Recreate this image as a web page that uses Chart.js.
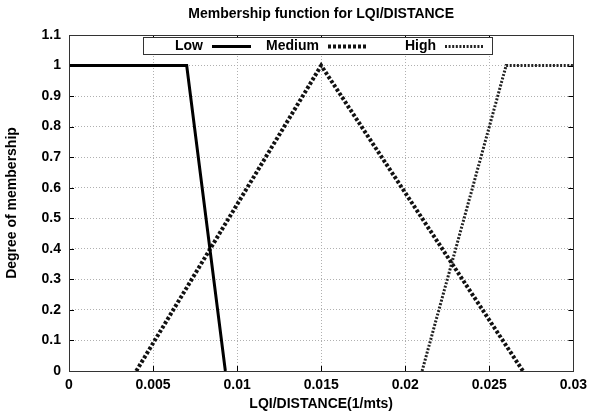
<!DOCTYPE html>
<html>
<head>
<meta charset="utf-8">
<script src="https://cdn.jsdelivr.net/npm/chart.js@4"></script>
<style>
  html, body { margin: 0; padding: 0; background: #fff; }
  #wrap { width: 593px; height: 418px; }
</style>
</head>
<body>
<div id="wrap"><canvas id="myChart" width="593" height="418"></canvas></div>
<script>
// valores
const seriesNames = ['Low', 'Medium', 'High'];
const lowX = [0, 0.007, 0.0093];
const lowY = [1, 1, 0];
const mediumX = [0.004, 0.015, 0.027];
const mediumY = [0, 1, 0];
const highX = [0.021, 0.026, 0.03];
const highY = [0, 1, 1];
const xTicks = [0, 0.005, 0.01, 0.015, 0.02, 0.025, 0.03];
const xTickLabels = ['0', '0.005', '0.01', '0.015', '0.02', '0.025', '0.03'];
const yTicks = [0, 0.1, 0.2, 0.3, 0.4, 0.5, 0.6, 0.7, 0.8, 0.9, 1, 1.1];
const yTickLabels = ['0', '0.1', '0.2', '0.3', '0.4', '0.5', '0.6', '0.7', '0.8', '0.9', '1', '1.1'];

const FONT = 'Liberation Sans, Arial, sans-serif';

function pts(xs, ys) {
    return xs.map((x, i) => ({ x: x, y: ys[i] }));
}

// titulo, caixa, marcas internas e legenda no estilo gnuplot
const gnuplotStyle = {
    id: 'gnuplotStyle',
    afterDraw(chart) {
        const c = chart.ctx;
        const a = chart.chartArea;
        const xs = chart.scales.x;
        const ys = chart.scales.y;
        c.save();

        // titulo
        c.fillStyle = '#000';
        c.font = 'bold 14px ' + FONT;
        c.textAlign = 'center';
        c.textBaseline = 'middle';
        c.fillText('Membership function for LQI/DISTANCE', (a.left + a.right) / 2, 14);

        // marcas dos eixos (para dentro, espelhadas)
        c.strokeStyle = '#000';
        c.lineWidth = 1;
        c.beginPath();
        xTicks.forEach(v => {
            const px = Math.round(xs.getPixelForValue(v)) + 0.5;
            c.moveTo(px, a.bottom); c.lineTo(px, a.bottom - 5);
            c.moveTo(px, a.top); c.lineTo(px, a.top + 5);
        });
        yTicks.forEach(v => {
            const py = Math.round(ys.getPixelForValue(v)) + 0.5;
            c.moveTo(a.left, py); c.lineTo(a.left + 5, py);
            c.moveTo(a.right, py); c.lineTo(a.right - 5, py);
        });
        c.stroke();

        // borda
        c.strokeStyle = '#333';
        c.strokeRect(Math.round(a.left) + 0.5, Math.round(a.top) + 0.5,
            Math.round(a.right - a.left), Math.round(a.bottom - a.top));

        // legenda
        const bx = a.left + 74, by = a.top + 2, bw = 349, bh = 17;
        c.fillStyle = '#fff';
        c.fillRect(bx, by, bw, bh);
        c.strokeStyle = '#333';
        c.lineWidth = 1;
        c.strokeRect(bx + 0.5, by + 0.5, bw, bh);
        const textEnds = [bx + 60, bx + 176, bx + 293];
        c.font = 'bold 14px ' + FONT;
        c.textAlign = 'right';
        c.fillStyle = '#000';
        chart.data.datasets.forEach((ds, i) => {
            const ty = by + bh / 2 + 1;
            c.fillText(ds.label, textEnds[i], ty);
            c.beginPath();
            c.setLineDash(ds.borderDash || []);
            c.lineWidth = ds.borderWidth;
            c.strokeStyle = ds.borderColor;
            c.moveTo(textEnds[i] + 9, ty);
            c.lineTo(textEnds[i] + 48, ty);
            c.stroke();
        });
        c.restore();
    }
};

const ctx = document.getElementById('myChart').getContext('2d');
let chart = new Chart(ctx, {
    type: 'line',
    data: {
        datasets: [
            { label: seriesNames[0], data: pts(lowX, lowY), borderColor: '#000', borderWidth: 3, borderDash: [] },
            { label: seriesNames[1], data: pts(mediumX, mediumY), borderColor: '#111', borderWidth: 4, borderDash: [3, 2] },
            { label: seriesNames[2], data: pts(highX, highY), borderColor: '#222', borderWidth: 3, borderDash: [2, 1.6] }
        ]
    },
    options: {
        responsive: false,
        animation: false,
        events: [],
        layout: { padding: { top: 35, right: 15, left: 0, bottom: 0 } },
        elements: {
            point: { radius: 0 },
            line: { tension: 0, fill: false, borderCapStyle: 'butt' }
        },
        plugins: {
            legend: { display: false },
            title: { display: false },
            tooltip: { enabled: false }
        },
        scales: {
            x: {
                type: 'linear',
                min: 0,
                max: 0.03,
                afterBuildTicks: s => { s.ticks = xTicks.map(v => ({ value: v })); },
                afterFit: s => { s.height = 47; },
                border: { display: false, dash: [1, 2] },
                grid: { color: '#b0b0b0', lineWidth: 1, drawTicks: false },
                ticks: {
                    padding: 6,
                    color: '#000',
                    font: { family: FONT, size: 14, weight: 'bold' },
                    maxRotation: 0,
                    autoSkip: false,
                    callback: (v, i) => xTickLabels[i]
                },
                title: {
                    display: true,
                    text: 'LQI/DISTANCE(1/mts)',
                    color: '#000',
                    font: { family: FONT, size: 14, weight: 'bold' },
                    padding: { top: 2, bottom: 5 }
                }
            },
            y: {
                type: 'linear',
                min: 0,
                max: 1.1,
                afterBuildTicks: s => { s.ticks = yTicks.map(v => ({ value: v })); },
                afterFit: s => { s.width = 69; },
                border: { display: false, dash: [1, 2] },
                grid: { color: '#b0b0b0', lineWidth: 1, drawTicks: false },
                ticks: {
                    padding: 8,
                    color: '#000',
                    font: { family: FONT, size: 14, weight: 'bold' },
                    autoSkip: false,
                    callback: (v, i) => yTickLabels[i]
                },
                title: {
                    display: true,
                    text: 'Degree of membership',
                    color: '#000',
                    font: { family: FONT, size: 14, weight: 'bold' },
                    padding: { top: 4, bottom: 0 }
                }
            }
        }
    },
    plugins: [gnuplotStyle]
});
</script>
</body>
</html>
